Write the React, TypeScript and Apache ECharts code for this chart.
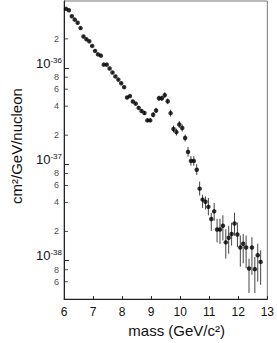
import React, { useEffect, useRef } from "react";
import * as echarts from "echarts";

// mass bin centres (GeV/c^2)
const masses = [
  6.07, 6.17, 6.27, 6.37, 6.47, 6.57, 6.67, 6.77, 6.87, 6.97,
  7.07, 7.17, 7.27, 7.37, 7.47, 7.57, 7.67, 7.77, 7.87, 7.97,
  8.07, 8.17, 8.27, 8.37, 8.47, 8.57, 8.67, 8.77, 8.87, 8.97,
  9.07, 9.17, 9.27, 9.37, 9.47, 9.57, 9.67, 9.77, 9.87, 9.97,
  10.07, 10.17, 10.27, 10.37, 10.47, 10.57, 10.67, 10.77, 10.87, 10.97,
  11.07, 11.17, 11.27, 11.37, 11.47, 11.57, 11.67, 11.77, 11.87, 11.97,
  12.07, 12.17, 12.27, 12.37, 12.47, 12.57, 12.67, 12.77,
];

// cross section (cm^2/GeV/nucleon)
const crossSection = [
  4.10e-36, 3.97e-36, 3.44e-36, 3.17e-36, 2.94e-36, 2.59e-36, 2.12e-36, 1.98e-36, 1.89e-36, 1.69e-36,
  1.50e-36, 1.38e-36, 1.34e-36, 1.08e-36, 1.08e-36, 9.84e-37, 8.95e-37, 8.15e-37, 7.55e-37, 6.92e-37,
  6.30e-37, 4.92e-37, 5.09e-37, 4.48e-37, 4.25e-37, 3.84e-37, 3.56e-37, 3.40e-37, 2.85e-37, 2.85e-37,
  3.26e-37, 3.61e-37, 4.83e-37, 4.83e-37, 5.21e-37, 4.50e-37, 3.39e-37, 2.32e-37, 2.15e-37, 2.58e-37,
  2.37e-37, 1.87e-37, 1.34e-37, 1.08e-37, 1.08e-37, 8.73e-38, 5.56e-38, 4.28e-38, 4.06e-38, 3.60e-38,
  2.69e-38, 3.23e-38, 2.09e-38, 2.09e-38, 2.29e-38, 1.54e-38, 1.72e-38, 1.88e-38, 2.42e-38, 1.86e-38,
  1.36e-38, 1.49e-38, 1.36e-38, 8.24e-39, 1.36e-38, 8.11e-39, 1.13e-38, 9.64e-39,
];

// upper / lower error bar lengths, in decades
const errUpDex = [
  0.012, 0.012, 0.012, 0.012, 0.012, 0.012, 0.012, 0.012, 0.012, 0.012,
  0.012, 0.012, 0.012, 0.012, 0.012, 0.012, 0.012, 0.012, 0.012, 0.012,
  0.015, 0.015, 0.015, 0.015, 0.015, 0.018, 0.018, 0.018, 0.02, 0.02,
  0.028, 0.028, 0.028, 0.028, 0.03, 0.03, 0.036, 0.036, 0.036, 0.036,
  0.036, 0.036, 0.05, 0.05, 0.05, 0.058, 0.074, 0.051, 0.056, 0.092,
  0.064, 0.088, 0.112, 0.112, 0.109, 0.137, 0.123, 0.117, 0.11, 0.123,
  0.125, 0.102, 0.125, 0.102, 0.107, 0.126, 0.12, 0.12,
];
const errDownDex = [
  0.012, 0.012, 0.012, 0.012, 0.012, 0.012, 0.012, 0.012, 0.012, 0.012,
  0.012, 0.012, 0.012, 0.012, 0.012, 0.012, 0.012, 0.012, 0.012, 0.012,
  0.015, 0.015, 0.015, 0.015, 0.015, 0.018, 0.018, 0.018, 0.02, 0.02,
  0.028, 0.028, 0.028, 0.028, 0.03, 0.03, 0.036, 0.036, 0.036, 0.036,
  0.036, 0.036, 0.05, 0.05, 0.05, 0.054, 0.072, 0.086, 0.08, 0.088,
  0.123, 0.099, 0.133, 0.149, 0.153, 0.17, 0.166, 0.121, 0.128, 0.133,
  0.199, 0.204, 0.215, 0.255, 0.284, 0.248, 0.273, 0.238,
];

// labelled intermediate ticks on the log axis
const minorTickValues = [2e-36, 8e-37, 6e-37, 4e-37, 2e-37, 8e-38, 6e-38, 4e-38, 2e-38, 8e-39, 6e-39];

const X_MIN = 6;
const X_MAX = 13;
const Y_MIN = 3.96e-39;
const Y_MAX = 4.95e-36;

const FONT = "Liberation Sans";

export default function App() {
  const ref = useRef<HTMLDivElement>(null);

  useEffect(() => {
    if (!ref.current) return;
    const chart = echarts.init(ref.current, undefined, { renderer: "svg" });

    const points = masses.map((m, i) => [m, crossSection[i]]);
    const errs = masses.map((m, i) => [
      m,
      crossSection[i] / Math.pow(10, errDownDex[i]),
      crossSection[i] * Math.pow(10, errUpDex[i]),
    ]);
    const minorPts = minorTickValues.map((v) => [X_MIN, v]);

    const option: any = {
      animation: false,
      backgroundColor: "#ffffff",
      textStyle: { fontFamily: FONT },
      grid: {
        left: 64,
        right: 8,
        top: 1,
        bottom: 39,
        show: true,
        borderColor: "#777",
        borderWidth: 1,
      },
      xAxis: {
        type: "value",
        min: X_MIN,
        max: X_MAX,
        interval: 1,
        name: "mass (GeV/c²)",
        nameLocation: "middle",
        nameGap: 17,
        nameTextStyle: {
          fontFamily: FONT,
          fontSize: 15,
          color: "#111",
          verticalAlign: "top",
          padding: [0, 0, 0, 22],
        },
        axisLine: { show: true, lineStyle: { color: "#222", width: 1 } },
        axisTick: { show: true, inside: true, length: 3, lineStyle: { color: "#222" } },
        axisLabel: { fontFamily: FONT, fontSize: 12, color: "#111", margin: 7 },
        splitLine: { show: false },
      },
      yAxis: {
        type: "log",
        logBase: 10,
        min: Y_MIN,
        max: Y_MAX,
        name: "cm²/GeV/nucleon",
        nameLocation: "middle",
        nameGap: 40,
        nameTextStyle: { fontFamily: FONT, fontSize: 15, color: "#111", padding: [0, 0, 0, 8] },
        axisLine: { show: true, lineStyle: { color: "#222", width: 1 } },
        axisTick: { show: true, inside: true, length: 5, lineStyle: { color: "#222" } },
        axisLabel: {
          showMinLabel: false,
          showMaxLabel: false,
          margin: 2,
          verticalAlign: "middle",
          padding: [0, 0, 9, 0],
          formatter: (v: number) => {
            const l = Math.log10(v);
            const e = Math.round(l);
            if (Math.abs(l - e) > 0.01) return "";
            return "{b|10}{s|" + e + "}";
          },
          rich: {
            b: { fontFamily: FONT, fontSize: 13, color: "#111", lineHeight: 14 },
            s: { fontFamily: FONT, fontSize: 8, color: "#111", verticalAlign: "top", lineHeight: 2 },
          },
        },
        splitLine: { show: false },
      },
      series: [
        {
          name: "minor ticks",
          type: "scatter",
          data: minorPts,
          symbol: "rect",
          symbolSize: [4, 1],
          symbolOffset: [2, 0],
          itemStyle: { color: "#222" },
          silent: true,
          clip: false,
          z: 1,
          label: {
            show: true,
            position: "left",
            distance: 5,
            fontFamily: FONT,
            fontSize: 9,
            color: "#111",
            formatter: (p: any) => {
              const v = p.value[1];
              const e = Math.floor(Math.log10(v) + 1e-9);
              return String(Math.round(v / Math.pow(10, e)));
            },
          },
        },
        {
          name: "errors",
          type: "custom",
          data: errs,
          encode: { x: 0, y: [1, 2] },
          silent: true,
          z: 2,
          renderItem: (params: any, api: any) => {
            const x = api.value(0);
            const p1 = api.coord([x, api.value(1)]);
            const p2 = api.coord([x, api.value(2)]);
            return {
              type: "line",
              shape: { x1: p1[0], y1: p1[1], x2: p2[0], y2: p2[1] },
              style: { stroke: "#444", lineWidth: 1 },
            };
          },
        },
        {
          name: "data",
          type: "scatter",
          data: points,
          symbol: "circle",
          symbolSize: 4.5,
          itemStyle: { color: "#000" },
          z: 3,
        },
      ],
    };

    chart.setOption(option);
    return () => {
      chart.dispose();
    };
  }, []);

  return (
    <div
      ref={ref}
      style={{ position: "fixed", left: 0, top: 0, width: 277, height: 343, background: "#fff" }}
    />
  );
}
